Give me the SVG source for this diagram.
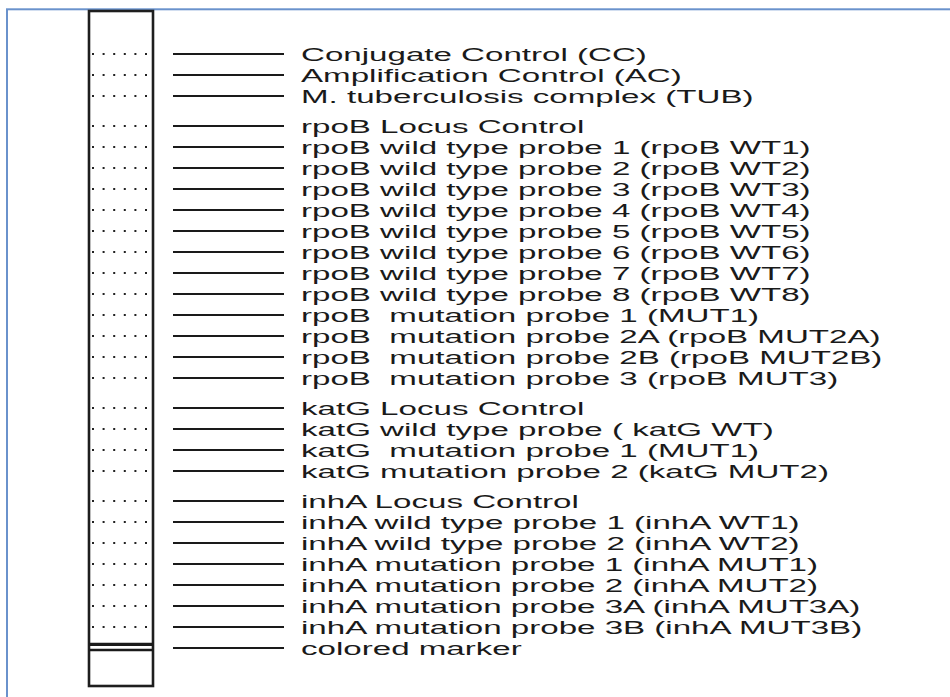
<svg xmlns="http://www.w3.org/2000/svg" width="950" height="697" viewBox="0 0 950 697">
<style>
.frame{fill:none;stroke:#6a92cc;stroke-width:2}
.strip{fill:#fff;stroke:#1e1e1e;stroke-width:2.6}
.band{stroke:#222;stroke-width:2;stroke-dasharray:2 8.6}
.mk{stroke:#1a1a1a}
.lead{stroke:#1a1a1a;stroke-width:2}
.lbl{font-family:"Liberation Sans",Arial,sans-serif;font-size:18.5px;fill:#1a1a1a}
</style>
<rect width="950" height="697" fill="#fff"/>
<rect class="frame" x="7" y="9.3" width="980" height="720"/>
<g id="strip">
<rect class="strip" x="89" y="11" width="64" height="675"/>
<line class="mk" x1="89" y1="644.3" x2="153" y2="644.3" stroke-width="3.2"/>
<line class="mk" x1="89" y1="650" x2="153" y2="650" stroke-width="2.6"/>
</g>
<g id="connectors">
<line class="lead" x1="173" y1="54" x2="284" y2="54"/>
<line class="lead" x1="173" y1="75" x2="284" y2="75"/>
<line class="lead" x1="173" y1="96" x2="284" y2="96"/>
<line class="lead" x1="173" y1="126" x2="284" y2="126"/>
<line class="lead" x1="173" y1="147" x2="284" y2="147"/>
<line class="lead" x1="173" y1="168" x2="284" y2="168"/>
<line class="lead" x1="173" y1="189" x2="284" y2="189"/>
<line class="lead" x1="173" y1="210" x2="284" y2="210"/>
<line class="lead" x1="173" y1="231" x2="284" y2="231"/>
<line class="lead" x1="173" y1="252" x2="284" y2="252"/>
<line class="lead" x1="173" y1="273" x2="284" y2="273"/>
<line class="lead" x1="173" y1="294" x2="284" y2="294"/>
<line class="lead" x1="173" y1="315" x2="284" y2="315"/>
<line class="lead" x1="173" y1="336" x2="284" y2="336"/>
<line class="lead" x1="173" y1="357" x2="284" y2="357"/>
<line class="lead" x1="173" y1="378" x2="284" y2="378"/>
<line class="lead" x1="173" y1="408" x2="284" y2="408"/>
<line class="lead" x1="173" y1="429" x2="284" y2="429"/>
<line class="lead" x1="173" y1="450" x2="284" y2="450"/>
<line class="lead" x1="173" y1="471" x2="284" y2="471"/>
<line class="lead" x1="173" y1="501" x2="284" y2="501"/>
<line class="lead" x1="173" y1="522" x2="284" y2="522"/>
<line class="lead" x1="173" y1="543" x2="284" y2="543"/>
<line class="lead" x1="173" y1="564" x2="284" y2="564"/>
<line class="lead" x1="173" y1="585" x2="284" y2="585"/>
<line class="lead" x1="173" y1="606" x2="284" y2="606"/>
<line class="lead" x1="173" y1="627" x2="284" y2="627"/>
<line class="lead" x1="173" y1="648" x2="284" y2="648"/>
</g>
<g id="cc"><line class="band" x1="92" y1="54" x2="150" y2="54"/><text class="lbl" transform="translate(301 60.8) scale(1.79 1)">Conjugate Control (CC)</text></g>
<g id="ac"><line class="band" x1="92" y1="75" x2="150" y2="75"/><text class="lbl" transform="translate(301 81.8) scale(1.79 1)">Amplification Control (AC)</text></g>
<g id="tub"><line class="band" x1="92" y1="96" x2="150" y2="96"/><text class="lbl" transform="translate(301 102.8) scale(1.79 1)">M. tuberculosis complex (TUB)</text></g>
<g id="rpob-lc"><line class="band" x1="92" y1="126" x2="150" y2="126"/><text class="lbl" transform="translate(301 132.8) scale(1.79 1)">rpoB Locus Control</text></g>
<g id="rpob-wt1"><line class="band" x1="92" y1="147" x2="150" y2="147"/><text class="lbl" transform="translate(301 153.8) scale(1.79 1)">rpoB wild type probe 1 (rpoB WT1)</text></g>
<g id="rpob-wt2"><line class="band" x1="92" y1="168" x2="150" y2="168"/><text class="lbl" transform="translate(301 174.8) scale(1.79 1)">rpoB wild type probe 2 (rpoB WT2)</text></g>
<g id="rpob-wt3"><line class="band" x1="92" y1="189" x2="150" y2="189"/><text class="lbl" transform="translate(301 195.8) scale(1.79 1)">rpoB wild type probe 3 (rpoB WT3)</text></g>
<g id="rpob-wt4"><line class="band" x1="92" y1="210" x2="150" y2="210"/><text class="lbl" transform="translate(301 216.8) scale(1.79 1)">rpoB wild type probe 4 (rpoB WT4)</text></g>
<g id="rpob-wt5"><line class="band" x1="92" y1="231" x2="150" y2="231"/><text class="lbl" transform="translate(301 237.8) scale(1.79 1)">rpoB wild type probe 5 (rpoB WT5)</text></g>
<g id="rpob-wt6"><line class="band" x1="92" y1="252" x2="150" y2="252"/><text class="lbl" transform="translate(301 258.8) scale(1.79 1)">rpoB wild type probe 6 (rpoB WT6)</text></g>
<g id="rpob-wt7"><line class="band" x1="92" y1="273" x2="150" y2="273"/><text class="lbl" transform="translate(301 279.8) scale(1.79 1)">rpoB wild type probe 7 (rpoB WT7)</text></g>
<g id="rpob-wt8"><line class="band" x1="92" y1="294" x2="150" y2="294"/><text class="lbl" transform="translate(301 300.8) scale(1.79 1)">rpoB wild type probe 8 (rpoB WT8)</text></g>
<g id="rpob-mut1"><line class="band" x1="92" y1="315" x2="150" y2="315"/><text class="lbl" xml:space="preserve" transform="translate(301 321.8) scale(1.79 1)">rpoB  mutation probe 1 (MUT1)</text></g>
<g id="rpob-mut2a"><line class="band" x1="92" y1="336" x2="150" y2="336"/><text class="lbl" xml:space="preserve" transform="translate(301 342.8) scale(1.79 1)">rpoB  mutation probe 2A (rpoB MUT2A)</text></g>
<g id="rpob-mut2b"><line class="band" x1="92" y1="357" x2="150" y2="357"/><text class="lbl" xml:space="preserve" transform="translate(301 363.8) scale(1.79 1)">rpoB  mutation probe 2B (rpoB MUT2B)</text></g>
<g id="rpob-mut3"><line class="band" x1="92" y1="378" x2="150" y2="378"/><text class="lbl" xml:space="preserve" transform="translate(301 384.8) scale(1.79 1)">rpoB  mutation probe 3 (rpoB MUT3)</text></g>
<g id="katg-lc"><line class="band" x1="92" y1="408" x2="150" y2="408"/><text class="lbl" transform="translate(301 414.8) scale(1.79 1)">katG Locus Control</text></g>
<g id="katg-wt"><line class="band" x1="92" y1="429" x2="150" y2="429"/><text class="lbl" transform="translate(301 435.8) scale(1.79 1)">katG wild type probe ( katG WT)</text></g>
<g id="katg-mut1"><line class="band" x1="92" y1="450" x2="150" y2="450"/><text class="lbl" xml:space="preserve" transform="translate(301 456.8) scale(1.79 1)">katG  mutation probe 1 (MUT1)</text></g>
<g id="katg-mut2"><line class="band" x1="92" y1="471" x2="150" y2="471"/><text class="lbl" transform="translate(301 477.8) scale(1.79 1)">katG mutation probe 2 (katG MUT2)</text></g>
<g id="inha-lc"><line class="band" x1="92" y1="501" x2="150" y2="501"/><text class="lbl" transform="translate(301 507.8) scale(1.79 1)">inhA Locus Control</text></g>
<g id="inha-wt1"><line class="band" x1="92" y1="522" x2="150" y2="522"/><text class="lbl" transform="translate(301 528.8) scale(1.79 1)">inhA wild type probe 1 (inhA WT1)</text></g>
<g id="inha-wt2"><line class="band" x1="92" y1="543" x2="150" y2="543"/><text class="lbl" transform="translate(301 549.8) scale(1.79 1)">inhA wild type probe 2 (inhA WT2)</text></g>
<g id="inha-mut1"><line class="band" x1="92" y1="564" x2="150" y2="564"/><text class="lbl" transform="translate(301 570.8) scale(1.79 1)">inhA mutation probe 1 (inhA MUT1)</text></g>
<g id="inha-mut2"><line class="band" x1="92" y1="585" x2="150" y2="585"/><text class="lbl" transform="translate(301 591.8) scale(1.79 1)">inhA mutation probe 2 (inhA MUT2)</text></g>
<g id="inha-mut3a"><line class="band" x1="92" y1="606" x2="150" y2="606"/><text class="lbl" transform="translate(301 612.8) scale(1.79 1)">inhA mutation probe 3A (inhA MUT3A)</text></g>
<g id="inha-mut3b"><line class="band" x1="92" y1="627" x2="150" y2="627"/><text class="lbl" transform="translate(301 633.8) scale(1.79 1)">inhA mutation probe 3B (inhA MUT3B)</text></g>
<g id="marker"><text class="lbl" transform="translate(301 654.8) scale(1.79 1)">colored marker</text></g>
</svg>
